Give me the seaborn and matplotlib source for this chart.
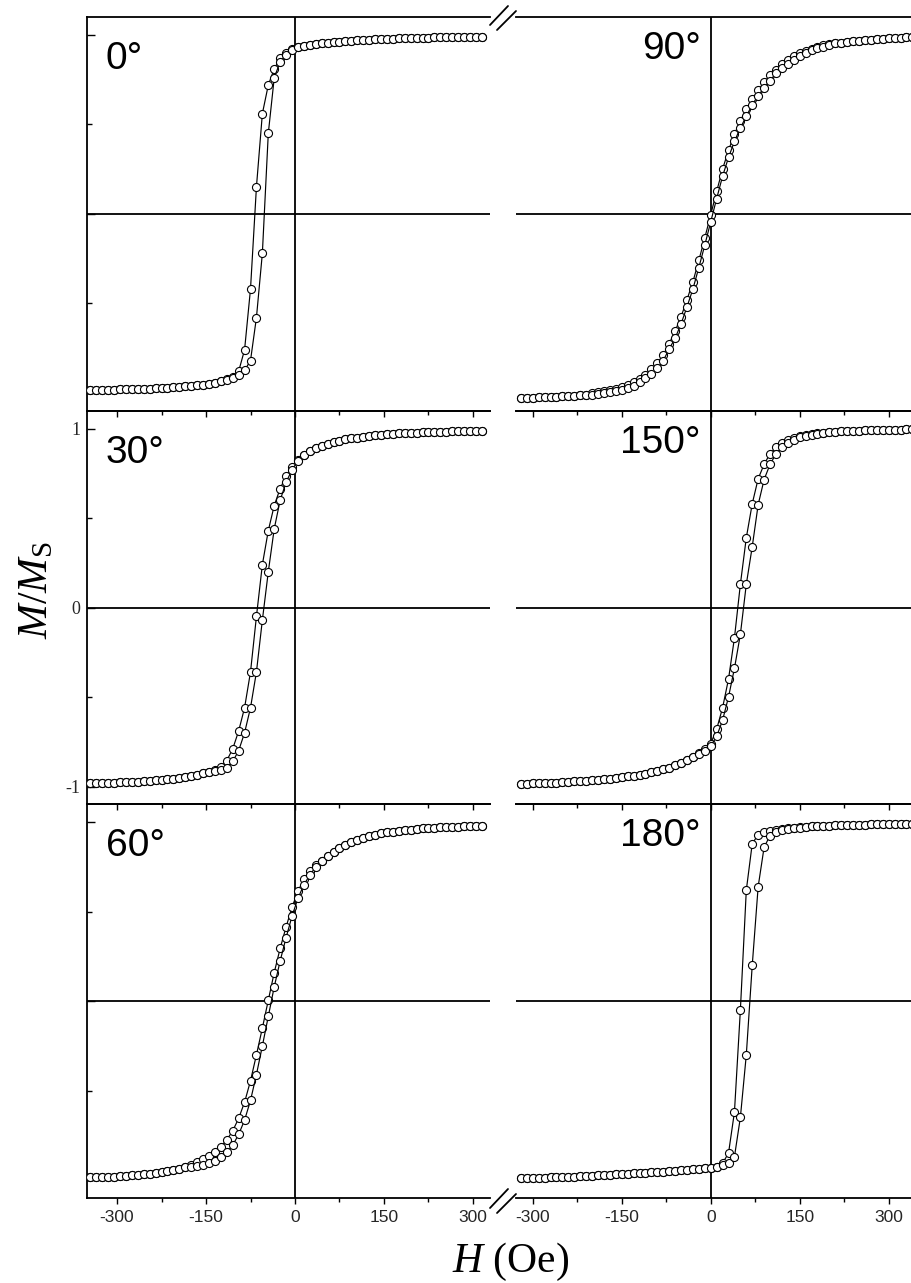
import matplotlib
matplotlib.use("Agg")
import matplotlib.pyplot as plt
import seaborn as sns
import pandas as pd
from matplotlib.lines import Line2D
from matplotlib.ticker import FixedLocator

# ---------------- data ----------------
H_LEFT = [-345, -335, -325, -315, -305, -295, -285, -275, -265, -255, -245, -235, -225, -215,
          -205, -195, -185, -175, -165, -155, -145, -135, -125, -115, -105, -95, -85, -75,
          -65, -55, -45, -35, -25, -15, -5, 5, 15, 25, 35, 45, 55, 65, 75, 85, 95, 105, 115,
          125, 135, 145, 155, 165, 175, 185, 195, 205, 215, 225, 235, 245, 255, 265, 275,
          285, 295, 305, 315]
H_RIGHT = [-320, -310, -300, -290, -280, -270, -260, -250, -240, -230, -220, -210, -200, -190,
           -180, -170, -160, -150, -140, -130, -120, -110, -100, -90, -80, -70, -60, -50, -40,
           -30, -20, -10, 0, 10, 20, 30, 40, 50, 60, 70, 80, 90, 100, 110, 120, 130, 140, 150,
           160, 170, 180, 190, 200, 210, 220, 230, 240, 250, 260, 270, 280, 290, 300, 310, 320,
           330, 340]

# 0 deg (left grid)
LOW_0 = [-0.985, -0.985, -0.984, -0.983, -0.982, -0.981, -0.980, -0.979, -0.978, -0.977,
         -0.976, -0.975, -0.973, -0.971, -0.969, -0.967, -0.964, -0.961, -0.958, -0.954,
         -0.949, -0.943, -0.935]
MID_0_DOWN = [-0.925, -0.912, -0.88, -0.76, -0.42, 0.15, 0.56, 0.72, 0.81, 0.87, 0.90, 0.92]
MID_0_UP = [-0.928, -0.918, -0.90, -0.875, -0.82, -0.58, -0.22, 0.45, 0.76, 0.85, 0.89, 0.915]
HIGH_0 = [0.93, 0.937, 0.943, 0.948, 0.952, 0.956, 0.96, 0.963, 0.966, 0.968, 0.97, 0.972,
          0.974, 0.976, 0.977, 0.978, 0.979, 0.98, 0.981, 0.982, 0.983, 0.984, 0.985, 0.986,
          0.987, 0.987, 0.988, 0.988, 0.989, 0.989, 0.99, 0.99]

# 30 deg (left grid)
LOW_30 = [-0.982, -0.981, -0.98, -0.979, -0.978, -0.977, -0.976, -0.975, -0.973, -0.971,
          -0.969, -0.966, -0.963, -0.96, -0.956, -0.951, -0.946, -0.94, -0.934, -0.927, -0.918]
MID_30_DOWN = [-0.906, -0.89, -0.855, -0.79, -0.69, -0.56, -0.36, -0.05, 0.24, 0.43, 0.57,
               0.665, 0.735, 0.785, 0.825]
MID_30_UP = [-0.915, -0.905, -0.895, -0.86, -0.80, -0.70, -0.56, -0.36, -0.07, 0.20, 0.44,
             0.60, 0.70, 0.77, 0.82]
HIGH_30 = [0.855, 0.875, 0.89, 0.905, 0.915, 0.925, 0.933, 0.94, 0.945, 0.95, 0.955, 0.959,
           0.963, 0.966, 0.969, 0.971, 0.973, 0.975, 0.977, 0.978, 0.979, 0.98, 0.981, 0.982,
           0.983, 0.984, 0.985, 0.985, 0.986, 0.986, 0.987]

# 60 deg (left grid)
LOW_60 = [-0.985, -0.984, -0.983, -0.982, -0.98, -0.978, -0.976, -0.974, -0.971, -0.968,
          -0.964, -0.96, -0.955, -0.95, -0.944, -0.937, -0.929]
MID_60_DOWN = [-0.915, -0.90, -0.883, -0.864, -0.841, -0.813, -0.775, -0.725, -0.655, -0.565,
               -0.445, -0.30, -0.15, 0.005, 0.16, 0.295, 0.415, 0.525, 0.615, 0.68, 0.725, 0.76]
MID_60_UP = [-0.925, -0.92, -0.913, -0.904, -0.891, -0.873, -0.845, -0.805, -0.745, -0.665,
             -0.555, -0.41, -0.25, -0.085, 0.08, 0.225, 0.355, 0.475, 0.575, 0.65, 0.705, 0.75]
HIGH_60 = [0.785, 0.81, 0.835, 0.855, 0.875, 0.89, 0.903, 0.913, 0.922, 0.93, 0.937, 0.943,
           0.948, 0.952, 0.956, 0.959, 0.962, 0.965, 0.967, 0.969, 0.971, 0.972, 0.974, 0.975,
           0.976, 0.977, 0.978, 0.979]

# 90 deg (right grid)
LOW_90 = [-1.03, -1.03, -1.028, -1.026, -1.025, -1.023, -1.022, -1.02, -1.018, -1.016, -1.013,
          -1.01]
MID_90_DOWN = [-1.001, -0.997, -0.992, -0.986, -0.979, -0.965, -0.954, -0.94, -0.922, -0.90,
               -0.867, -0.833, -0.79, -0.725, -0.655, -0.575, -0.48, -0.38, -0.26, -0.135,
               -0.005, 0.125, 0.25, 0.355, 0.445, 0.52, 0.585, 0.64, 0.69, 0.735, 0.775, 0.805,
               0.835, 0.86, 0.882, 0.90, 0.91, 0.923, 0.934, 0.943, 0.951]
MID_90_UP = [-1.011, -1.007, -1.002, -0.996, -0.989, -0.985, -0.974, -0.96, -0.942, -0.92,
             -0.897, -0.863, -0.82, -0.755, -0.695, -0.615, -0.52, -0.42, -0.30, -0.175,
             -0.045, 0.085, 0.21, 0.315, 0.405, 0.48, 0.545, 0.61, 0.66, 0.705, 0.745, 0.785,
             0.815, 0.84, 0.862, 0.88, 0.90, 0.913, 0.924, 0.933, 0.941]
HIGH_90 = [0.952, 0.957, 0.961, 0.965, 0.968, 0.971, 0.974, 0.976, 0.978, 0.98, 0.982, 0.984,
           0.986, 0.988]

# 150 deg (right grid)
LOW_150 = [-0.985, -0.984, -0.983, -0.982, -0.981, -0.98, -0.978, -0.976, -0.974, -0.972,
           -0.97, -0.968, -0.965, -0.962, -0.959, -0.956, -0.952, -0.948, -0.944, -0.939,
           -0.934, -0.928, -0.921, -0.913, -0.904, -0.894, -0.882, -0.868, -0.852, -0.835]
MID_150_DOWN = [-0.815, -0.79, -0.76, -0.68, -0.56, -0.40, -0.17, 0.13, 0.39, 0.58, 0.72, 0.80,
                0.86, 0.895, 0.92, 0.936, 0.948, 0.957, 0.964, 0.97, 0.974, 0.978]
MID_150_UP = [-0.82, -0.80, -0.775, -0.72, -0.63, -0.50, -0.34, -0.15, 0.13, 0.34, 0.575, 0.715,
              0.80, 0.858, 0.895, 0.92, 0.938, 0.951, 0.96, 0.967, 0.972, 0.977]
HIGH_150 = [0.981, 0.983, 0.985, 0.987, 0.988, 0.989, 0.99, 0.991, 0.992, 0.993, 0.993, 0.994,
            0.994, 0.995, 0.995]

# 180 deg (right grid)
LOW_180 = [-0.99, -0.989, -0.988, -0.987, -0.986, -0.985, -0.984, -0.983, -0.982, -0.98,
           -0.978, -0.977, -0.975, -0.974, -0.972, -0.97, -0.968, -0.966, -0.964, -0.962,
           -0.96, -0.958, -0.956, -0.954, -0.952, -0.95, -0.948, -0.946, -0.943, -0.94,
           -0.937, -0.934, -0.93, -0.925]
MID_180_DOWN = [-0.905, -0.85, -0.62, -0.05, 0.62, 0.88, 0.93, 0.945, 0.953, 0.958, 0.962,
                0.966, 0.969, 0.972, 0.974]
MID_180_UP = [-0.918, -0.905, -0.87, -0.65, -0.30, 0.20, 0.64, 0.86, 0.925, 0.945, 0.955,
              0.961, 0.965, 0.969, 0.972]
HIGH_180 = [0.976, 0.978, 0.98, 0.981, 0.982, 0.983, 0.984, 0.985, 0.986, 0.987, 0.988, 0.989,
            0.99, 0.99, 0.991, 0.991, 0.992, 0.992]

ANGLE_LABELS = ["0°", "90°", "30°", "150°", "60°", "180°"]
X_TICKS = [-300, -150, 0, 150, 300]
X_TICK_LABELS = ["-300", "-150", "0", "150", "300"]
X_MINOR = [-225, -75, 75, 225]
Y_TICKS = [-1, 0, 1]
Y_TICK_LABELS = ["-1", "0", "1"]
Y_MINOR = [-0.5, 0.5]

branches = {
    "0°": (H_LEFT, LOW_0 + MID_0_DOWN + HIGH_0, LOW_0 + MID_0_UP + HIGH_0),
    "30°": (H_LEFT, LOW_30 + MID_30_DOWN + HIGH_30, LOW_30 + MID_30_UP + HIGH_30),
    "60°": (H_LEFT, LOW_60 + MID_60_DOWN + HIGH_60, LOW_60 + MID_60_UP + HIGH_60),
    "90°": (H_RIGHT, LOW_90 + MID_90_DOWN + HIGH_90, LOW_90 + MID_90_UP + HIGH_90),
    "150°": (H_RIGHT, LOW_150 + MID_150_DOWN + HIGH_150, LOW_150 + MID_150_UP + HIGH_150),
    "180°": (H_RIGHT, LOW_180 + MID_180_DOWN + HIGH_180, LOW_180 + MID_180_UP + HIGH_180),
}
for k, (h, d, u) in branches.items():
    assert len(h) == len(d) == len(u), (k, len(h), len(d), len(u))

# ---------------- style ----------------
sns.set_theme(style="white")
plt.rcParams["font.family"] = ["Liberation Sans", "DejaVu Sans"]
plt.rcParams["mathtext.fontset"] = "custom"
plt.rcParams["mathtext.rm"] = "Liberation Serif"
plt.rcParams["mathtext.it"] = "Liberation Serif:italic"
plt.rcParams["mathtext.bf"] = "Liberation Serif:bold"

W, HPX = 912, 1283
fig = plt.figure(figsize=(W / 100, HPX / 100), dpi=100)
fig.patch.set_facecolor("white")


def fx(px):
    return px / W


def fy(py):
    return 1 - py / HPX


ROW_TOP = [17, 410.7, 804.3]
ROW_H = 393.7
COLS = [(87, 490, (-350.6, 328.7)), (516, 912, (-328.2, 339.3))]

layout = [("0°", 0, 0), ("90°", 0, 1), ("30°", 1, 0), ("150°", 1, 1), ("60°", 2, 0), ("180°", 2, 1)]

for label, row, col in layout:
    x0, x1, xlim = COLS[col]
    top = ROW_TOP[row]
    ax = fig.add_axes([fx(x0), fy(top + ROW_H), (x1 - x0) / W, ROW_H / HPX])
    ax.set_facecolor("none")
    h, d, u = branches[label]
    df = pd.DataFrame({"H": list(h) + list(h), "M": list(d) + list(u),
                       "branch": ["down"] * len(h) + ["up"] * len(h)})
    ax.axhline(0, color="black", lw=1.3, zorder=1)
    ax.axvline(0, color="black", lw=1.3, zorder=1)
    sns.lineplot(data=df, x="H", y="M", units="branch", estimator=None, sort=False,
                 color="black", linewidth=0.85, marker="o", markersize=5.8,
                 markerfacecolor="white", markeredgecolor="black", markeredgewidth=0.8,
                 ax=ax, legend=False, zorder=3)
    ax.set_xlim(*xlim)
    ax.set_ylim(-1.1, 1.1)
    ax.set_xlabel("")
    ax.set_ylabel("")

    for name, sp in ax.spines.items():
        sp.set_color("black")
        sp.set_linewidth(1.3)
    ax.spines["right"].set_visible(False)
    if col == 1:
        ax.spines["left"].set_visible(False)

    ax.set_xticks(X_TICKS, labels=X_TICK_LABELS)
    ax.xaxis.set_minor_locator(FixedLocator(X_MINOR))
    ax.tick_params(axis="x", which="both", direction="out", bottom=True, top=False,
                   labelbottom=(row == 2), labelsize=12.5, pad=4, width=1.0, color="black")
    ax.tick_params(axis="x", which="major", length=4.5)
    ax.tick_params(axis="x", which="minor", length=3)

    if col == 0:
        ax.set_yticks(Y_TICKS, labels=Y_TICK_LABELS)
        ax.yaxis.set_minor_locator(FixedLocator(Y_MINOR))
        ax.tick_params(axis="y", which="both", direction="in", left=True, right=False,
                       labelleft=(row == 1), labelsize=13, pad=5, width=1.0, color="black")
        ax.tick_params(axis="y", which="major", length=5.5)
        ax.tick_params(axis="y", which="minor", length=3.5)
        for t in ax.get_yticklabels():
            t.set_fontfamily("Liberation Serif")
        ax.text(0.047, 1 - 52 / ROW_H, label, transform=ax.transAxes, fontsize=28,
                ha="left", va="baseline", color="black")
    else:
        ax.set_yticks([])
        ax.tick_params(axis="y", which="both", left=False, right=False, labelleft=False)
        ax.text((701 - x0) / (x1 - x0), 1 - 42 / ROW_H, label, transform=ax.transAxes,
                fontsize=28, ha="right", va="baseline", color="black")

# axis break marks
for (xa, ya, xb, yb) in [(490, 25, 508, 6), (497, 30, 516, 11),
                         (490, 1208, 508, 1189), (497, 1213, 516, 1194)]:
    fig.add_artist(Line2D([fx(xa), fx(xb)], [fy(ya), fy(yb)], color="black", lw=1.3))

fig.text(fx(36), fy(590), r"$M/M_\mathrm{S}$", rotation=90, fontsize=30,
         ha="center", va="center", color="black")
fig.text(fx(511), fy(1262), r"$H$ (Oe)", fontsize=30, fontfamily="Liberation Serif",
         ha="center", va="center", color="black")

fig.savefig("out.png", dpi=100, facecolor="white")
